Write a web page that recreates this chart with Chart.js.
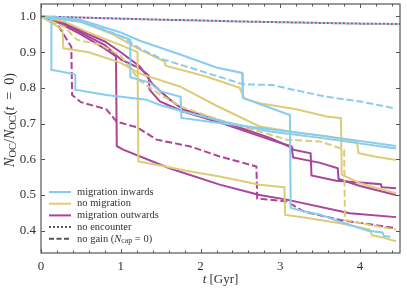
<!DOCTYPE html>
<html>
<head>
<meta charset="utf-8">
<script src="https://cdn.jsdelivr.net/npm/chart.js@4/dist/chart.umd.min.js"></script>
<style>
  html, body { margin: 0; padding: 0; background: #fff; }
  canvas { display: block; }
</style>
</head>
<body>
<canvas id="chart" width="407" height="291"></canvas>
<script>
// tick labels
const xTicks = [0, 1, 2, 3, 4];
const yTicks = [0.4, 0.5, 0.6, 0.7, 0.8, 0.9, 1.0];

// no encounter (dotted)
const dot_t = [0, 0.5, 1, 1.5, 2, 2.5, 3, 3.5, 4, 4.5];
const dotIn_y = [1.0, 0.997, 0.994, 0.991, 0.988, 0.986, 0.984, 0.982, 0.980, 0.978];
const dotNo_y = [1.0, 0.997, 0.994, 0.991, 0.989, 0.986, 0.984, 0.982, 0.980, 0.979];
const dotOut_y = [1.0, 0.997, 0.994, 0.991, 0.989, 0.986, 0.984, 0.982, 0.980, 0.979];

// migration inwards
const inA_t = [0, 0.1, 0.13, 0.13, 0.2, 0.42, 0.43, 0.43, 0.82, 1.32, 1.49, 1.78, 2.28, 2.87, 3.5, 4.45];
const inA_y = [1.0, 0.995, 0.99, 0.85, 0.848, 0.838, 0.835, 0.795, 0.78, 0.767, 0.752, 0.734, 0.706, 0.678, 0.66, 0.63];
const inB_t = [0, 0.5, 1.0, 1.12, 1.12, 1.36, 1.5, 1.75, 1.76, 2.28, 2.87, 3.5, 4.45];
const inB_y = [1.0, 0.985, 0.945, 0.935, 0.83, 0.815, 0.79, 0.775, 0.716, 0.70, 0.684, 0.667, 0.637];
const inC_t = [0, 0.5, 1.0, 1.24, 1.7, 2.2, 2.52, 2.53, 2.74, 3.12, 3.13, 3.28, 3.5, 3.75, 4.1, 4.28, 4.3, 4.38];
const inC_y = [1.0, 0.99, 0.955, 0.932, 0.897, 0.857, 0.842, 0.772, 0.755, 0.724, 0.464, 0.455, 0.445, 0.425, 0.40, 0.395, 0.385, 0.383];
const inGain_t = [0, 0.3, 0.6, 1.0, 1.24, 1.53, 1.95, 2.28, 2.53, 2.9, 3.16, 3.58, 4.0, 4.45];
const inGain_y = [1.0, 0.997, 0.98, 0.945, 0.91, 0.88, 0.851, 0.828, 0.81, 0.808, 0.795, 0.775, 0.762, 0.742];

// no migration
const noA_t = [0, 0.5, 0.9, 1.24, 1.55, 1.56, 2.07, 2.49, 2.55, 2.74, 3.2, 3.58, 3.76, 3.77, 4.0, 4.2, 4.45];
const noA_y = [1.0, 0.985, 0.95, 0.907, 0.874, 0.862, 0.832, 0.80, 0.77, 0.757, 0.74, 0.72, 0.715, 0.557, 0.533, 0.52, 0.505];
const noB_t = [0, 0.27, 0.28, 0.6, 1.0, 1.24, 1.74, 2.2, 2.74, 3.2, 3.58, 3.96, 3.98, 4.2, 4.45];
const noB_y = [1.0, 0.963, 0.911, 0.9, 0.87, 0.84, 0.804, 0.75, 0.692, 0.675, 0.664, 0.65, 0.617, 0.607, 0.598];
const noC_t = [0, 0.3, 0.6, 1.0, 1.21, 1.22, 1.45, 1.87, 2.24, 2.74, 3.05, 3.06, 3.3, 3.75, 4.12, 4.15, 4.3, 4.45];
const noC_y = [1.0, 0.985, 0.955, 0.92, 0.9, 0.594, 0.585, 0.566, 0.552, 0.529, 0.522, 0.444, 0.437, 0.421, 0.403, 0.387, 0.38, 0.37];
const noGain_t = [0, 0.3, 0.45, 0.75, 1.0, 1.24, 1.5, 1.78, 2.24, 2.74, 3.08, 3.5, 3.75, 3.8, 3.81, 4.12, 4.45];
const noGain_y = [1.0, 0.97, 0.935, 0.92, 0.89, 0.82, 0.78, 0.745, 0.71, 0.678, 0.655, 0.65, 0.631, 0.625, 0.43, 0.416, 0.403];

// migration outwards
const outA_t = [0, 0.2, 0.5, 0.8, 0.94, 0.95, 1.03, 1.61, 2.24, 2.74, 3.08, 3.87, 4.45];
const outA_y = [1.0, 0.985, 0.95, 0.91, 0.888, 0.637, 0.627, 0.575, 0.529, 0.50, 0.487, 0.449, 0.438];
const outB_t = [0, 0.2, 0.5, 0.8, 1.0, 1.24, 1.35, 1.36, 1.49, 1.78, 2.28, 2.87, 3.14, 3.16, 3.38, 3.39, 3.7, 4.0, 4.26, 4.27, 4.45];
const outB_y = [1.0, 0.99, 0.955, 0.92, 0.88, 0.855, 0.835, 0.795, 0.762, 0.734, 0.70, 0.655, 0.636, 0.627, 0.617, 0.555, 0.54, 0.535, 0.53, 0.522, 0.519];
const outC_t = [0, 0.2, 0.5, 0.8, 1.0, 1.24, 1.4, 1.6, 1.78, 2.28, 2.87, 3.14, 3.16, 3.5, 3.72, 3.73, 4.0, 4.45];
const outC_y = [1.0, 0.99, 0.96, 0.93, 0.9, 0.86, 0.81, 0.77, 0.74, 0.705, 0.66, 0.633, 0.605, 0.59, 0.575, 0.545, 0.525, 0.50];
const outGain_t = [0, 0.2, 0.38, 0.39, 0.5, 0.82, 0.95, 1.2, 1.45, 1.87, 2.24, 2.7, 2.71, 3.08, 3.29, 3.75, 4.45];
const outGain_y = [1.0, 0.98, 0.915, 0.78, 0.76, 0.74, 0.705, 0.69, 0.655, 0.636, 0.608, 0.58, 0.49, 0.482, 0.454, 0.43, 0.407];

const BLUE = '#88CCEE';
const GOLD = '#DDCC77';
const PURPLE = '#AA4499';
const SERIF = '"Liberation Serif", "DejaVu Serif", serif';

function pts(t, y){
    return t.map((v, i) => ({x: v, y: y[i]}));
}

function line(t, y, color, style){
    let ds = {
        data: pts(t, y),
        borderColor: color,
        borderWidth: 2,
        pointRadius: 0,
        tension: 0,
        fill: false
    };
    if(style === 'dash') ds.borderDash = [7, 3];
    if(style === 'dot') ds.borderDash = [2, 2];
    return ds;
}

let datasets = [
    line(inA_t, inA_y, BLUE),
    line(inB_t, inB_y, BLUE),
    line(inC_t, inC_y, BLUE),
    line(inGain_t, inGain_y, BLUE, 'dash'),
    line(noA_t, noA_y, GOLD),
    line(noB_t, noB_y, GOLD),
    line(noC_t, noC_y, GOLD),
    line(noGain_t, noGain_y, GOLD, 'dash'),
    line(outA_t, outA_y, PURPLE),
    line(outB_t, outB_y, PURPLE),
    line(outC_t, outC_y, PURPLE),
    line(outGain_t, outGain_y, PURPLE, 'dash'),
    line(dot_t, dotIn_y, BLUE, 'dot'),
    line(dot_t, dotNo_y, GOLD, 'dot'),
    line(dot_t, dotOut_y, PURPLE, 'dot')
];
datasets[datasets.length - 1].borderDashOffset = 2;

// draws text made of pieces: {s, it, sub}
function richText(ctx, parts, x, y, size){
    const fontOf = p => (p.it ? 'italic ' : '') + (p.sub ? size * 0.75 : size) + 'px ' + SERIF;
    let w = 0;
    parts.forEach(p => {
        ctx.font = fontOf(p);
        w += ctx.measureText(p.s).width;
    });
    return {
        width: w,
        draw: (align) => {
            let cx = align === 'center' ? x - w / 2 : x;
            parts.forEach(p => {
                ctx.font = fontOf(p);
                ctx.fillText(p.s, cx, p.sub ? y + size * 0.22 : y);
                cx += ctx.measureText(p.s).width;
            });
        }
    };
}

const framePlugin = {
    id: 'frame',
    afterDraw(chart){
        const ctx = chart.ctx;
        const a = chart.chartArea;
        const xs = chart.scales.x;
        const ys = chart.scales.y;
        ctx.save();
        ctx.strokeStyle = '#555';
        ctx.lineWidth = 1.2;
        ctx.strokeRect(a.left, a.top, a.right - a.left, a.bottom - a.top);

        ctx.lineWidth = 1;
        ctx.beginPath();
        for(let v = 0; v <= 4.5 + 1e-9; v += 0.2){
            let px = Math.round(xs.getPixelForValue(v)) + 0.5;
            let major = Math.abs(v - Math.round(v)) < 1e-6;
            let len = major ? 4 : 2.5;
            ctx.moveTo(px, a.bottom); ctx.lineTo(px, a.bottom - len);
            ctx.moveTo(px, a.top); ctx.lineTo(px, a.top + len);
        }
        yTicks.forEach(v => {
            let py = Math.round(ys.getPixelForValue(v)) + 0.5;
            ctx.moveTo(a.left, py); ctx.lineTo(a.left + 4, py);
            ctx.moveTo(a.right, py); ctx.lineTo(a.right - 4, py);
        });
        ctx.stroke();

        // axis titles
        ctx.fillStyle = '#333';
        ctx.textBaseline = 'middle';
        ctx.textAlign = 'left';
        richText(ctx, [{s: 't', it: true}, {s: ' [Gyr]'}], (a.left + a.right) / 2, 280, 13).draw('center');

        ctx.save();
        ctx.translate(10, 120);
        ctx.rotate(-Math.PI / 2);
        richText(ctx, [
            {s: 'N', it: true}, {s: 'OC', sub: true}, {s: '/'},
            {s: 'N', it: true}, {s: 'OC', sub: true}, {s: '('},
            {s: 't', it: true}, {s: '\u2002=\u2002'}, {s: '0)'}
        ], 0, 0, 14).draw('center');
        ctx.restore();

        // legend
        let rows = [
            {color: BLUE, text: [{s: 'migration inwards'}]},
            {color: GOLD, text: [{s: 'no migration'}]},
            {color: PURPLE, text: [{s: 'migration outwards'}]},
            {color: '#555', dash: [2, 2], text: [{s: 'no encounter'}]},
            {color: '#555', dash: [5, 2.5], text: [{s: 'no gain ('}, {s: 'N', it: true}, {s: 'cap', sub: true}, {s: ' = 0)'}]}
        ];
        let y0 = a.bottom - 61;
        rows.forEach((r, i) => {
            let y = y0 + i * 11.7;
            ctx.strokeStyle = r.color;
            ctx.lineWidth = 2;
            ctx.setLineDash(r.dash || []);
            ctx.beginPath();
            ctx.moveTo(a.left + 8, y); ctx.lineTo(a.left + 30, y);
            ctx.stroke();
            ctx.setLineDash([]);
            ctx.fillStyle = '#333';
            richText(ctx, r.text, a.left + 36, y, 10.5).draw('left');
        });
        ctx.restore();
    }
};

new Chart(document.getElementById('chart'), {
    type: 'line',
    data: {datasets: datasets},
    options: {
        responsive: false,
        animation: false,
        devicePixelRatio: 1,
        layout: {padding: {top: 4, right: 7, left: 0, bottom: 0}},
        plugins: {
            legend: {display: false},
            tooltip: {enabled: false}
        },
        scales: {
            x: {
                type: 'linear',
                min: 0,
                max: 4.5,
                grid: {display: false, drawTicks: false},
                border: {display: false},
                afterBuildTicks: s => { s.ticks = xTicks.map(v => ({value: v})); },
                afterFit: s => { s.height = 38; s.paddingLeft = 0; s.paddingRight = 0; },
                ticks: {
                    padding: 6,
                    color: '#333',
                    font: {family: SERIF, size: 13},
                    callback: v => String(v)
                }
            },
            y: {
                type: 'linear',
                min: 0.3375,
                max: 1.035,
                grid: {display: false, drawTicks: false},
                border: {display: false},
                afterBuildTicks: s => { s.ticks = yTicks.map(v => ({value: v})); },
                afterFit: s => { s.width = 41; s.paddingTop = 0; s.paddingBottom = 0; },
                ticks: {
                    padding: 5,
                    color: '#333',
                    font: {family: SERIF, size: 13},
                    callback: v => v.toFixed(1)
                }
            }
        }
    },
    plugins: [framePlugin]
});
</script>
</body>
</html>
